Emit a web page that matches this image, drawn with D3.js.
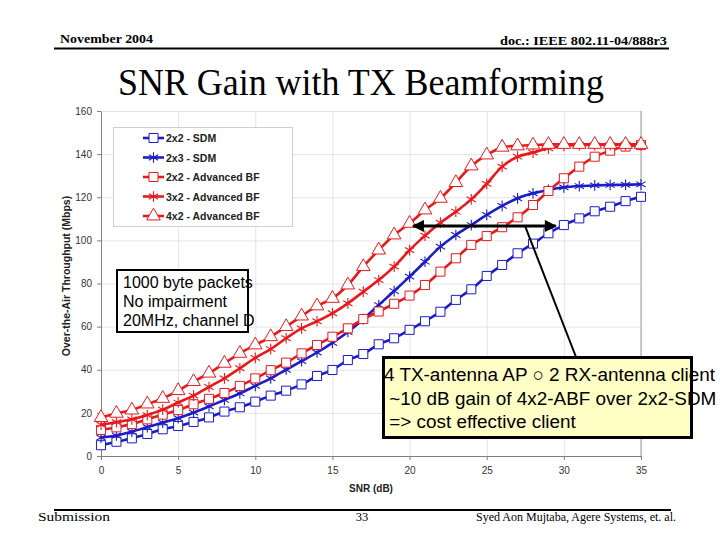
<!DOCTYPE html>
<html><head><meta charset="utf-8">
<script src="https://cdn.jsdelivr.net/npm/d3@7"></script>
<style>body{margin:0;background:#fff}svg{display:block}</style>
</head><body>
<svg id="c" width="720" height="540"></svg>
<script>
// ---- data ----
const snr = [0,1,2,3,4,5,6,7,8,9,10,11,12,13,14,15,16,17,18,19,20,21,22,23,24,25,26,27,28,29,30,31,32,33,34,35];
const sdm2x2 = [5,6.6,8.2,10.2,12.4,13.9,15.8,17.9,20.6,22.6,25.2,28,30.3,33.2,37.1,39.9,44.5,47.3,51.8,54.6,58.5,62.5,66.9,72.4,77.3,83.5,88.6,94,98.5,103.3,107.1,110.2,113.5,115.6,118.2,120.2];
const sdm2x3 = [8.5,9.5,11.3,13.4,15.5,17.5,20.1,23,26,29,32.5,36,40,44,48,52.5,57.5,63.5,70,76.5,83.2,90.1,97.1,102.5,107.1,111.8,116,119.5,121.8,123.4,124.6,125.2,125.5,125.7,125.8,126];
const abf2x2 = [12.1,13.3,14.8,17,19.2,21.3,24,26.5,29.2,32.5,36,39.8,43.3,47.6,51.5,55.3,59.2,63.5,67,70.6,74.4,79.3,85.5,91.7,97.9,102,106.1,110.7,116.4,122.9,128.8,134.2,138.8,141.6,143.5,144.2];
const abf3x2 = [14.5,15.7,17,19,21.5,24.8,28,32,36,40.7,45.5,49.6,54.6,59.2,62.5,66.2,70.8,76.2,81.6,87.8,95.5,102.2,108.2,113.3,119,126.2,134.2,138.8,140.7,142.7,143.8,144.2,144.2,144.2,144.2,144.2];
const abf4x2 = [17.8,19.8,21.3,24.1,26.7,30.3,34.5,38.4,43,47.6,51.5,55.3,60,64.9,69.6,73.1,79.3,87.8,95.5,102.5,107.9,114.1,119.5,126.8,134.5,139.6,143.2,143.8,144.2,144.5,144.5,144.5,144.5,144.5,144.5,144.5];
const seriesNames = ["2x2 - SDM","2x3 - SDM","2x2 - Advanced BF","3x2 - Advanced BF","4x2 - Advanced BF"];
const seriesValues = [sdm2x2, sdm2x3, abf2x2, abf3x2, abf4x2];
const xTicks = [0,5,10,15,20,25,30,35];
const yTicks = [0,20,40,60,80,100,120,140,160];
const noteSetup = ["1000 byte packets","No impairment","20MHz, channel D"];
const noteGain = ["4 TX-antenna AP \u25CB 2 RX-antenna client"," ~10 dB gain of 4x2-ABF over 2x2-SDM"," => cost effective client"];
const arrowRange = [20.1, 29.6];   // SNR span of the gain arrow
const arrowLevel = 106.7;          // throughput level of the gain arrow

// ---- styles ----
const colors = ["#1c1cc8","#1c1cc8","#e8191d","#e8191d","#e8191d"];
const markers = ["square","star","square","star","triangle"];
const serif = "'Liberation Serif','Times New Roman',serif";
const sans = "'Liberation Sans',Arial,sans-serif";

const svg = d3.select("#c");
svg.append("rect").attr("width",720).attr("height",540).attr("fill","#fff");

// header/footer
svg.append("text").attr("x",60).attr("y",43).attr("font-family",serif).attr("font-weight","bold")
  .attr("font-size",13).attr("textLength",93).attr("lengthAdjust","spacingAndGlyphs").text("November 2004");
svg.append("text").attr("x",667).attr("y",45).attr("text-anchor","end").attr("font-family",serif).attr("font-weight","bold")
  .attr("font-size",13).attr("textLength",167).attr("lengthAdjust","spacingAndGlyphs").text("doc.: IEEE 802.11-04/888r3");
svg.append("line").attr("x1",54).attr("x2",669).attr("y1",48.5).attr("y2",48.5).attr("stroke","#000").attr("stroke-width",2);
svg.append("text").attr("x",361).attr("y",95).attr("text-anchor","middle").attr("font-family",serif)
  .attr("font-size",37).attr("textLength",486).attr("lengthAdjust","spacingAndGlyphs").text("SNR Gain with TX Beamforming");
svg.append("line").attr("x1",54).attr("x2",671).attr("y1",510).attr("y2",510).attr("stroke","#000").attr("stroke-width",2);
svg.append("text").attr("x",38).attr("y",521).attr("font-family",serif).attr("font-size",12.5).attr("textLength",72).attr("lengthAdjust","spacingAndGlyphs").text("Submission");
svg.append("text").attr("x",362).attr("y",521).attr("text-anchor","middle").attr("font-family",serif).attr("font-size",12.5).text("33");
svg.append("text").attr("x",676).attr("y",521).attr("text-anchor","end").attr("font-family",serif).attr("font-size",12.5)
  .attr("textLength",200).attr("lengthAdjust","spacingAndGlyphs").text("Syed Aon Mujtaba, Agere Systems, et. al.");

// chart
const x = d3.scaleLinear().domain([0,35]).range([101,641]);
const y = d3.scaleLinear().domain([0,160]).range([456,111]);

// grid
const g = svg.append("g");
g.append("g").attr("transform","translate(0,456)")
  .call(d3.axisBottom(x).tickValues(xTicks).tickSize(-345).tickFormat(""))
  .call(a=>{a.select(".domain").remove();a.selectAll("line").attr("stroke","#e4e4e4");});
g.append("g").attr("transform","translate(101,0)")
  .call(d3.axisLeft(y).tickValues(yTicks).tickSize(-540).tickFormat(""))
  .call(a=>{a.select(".domain").remove();a.selectAll("line").attr("stroke","#e4e4e4");});
g.append("line").attr("x1",641).attr("x2",641).attr("y1",111).attr("y2",456).attr("stroke","#a0a0a0");

// axes
const ax = g.append("g").attr("transform","translate(0,456)")
  .call(d3.axisBottom(x).tickValues(xTicks).tickSize(4).tickSizeOuter(0).tickPadding(7));
const ay = g.append("g").attr("transform","translate(101,0)")
  .call(d3.axisLeft(y).tickValues(yTicks).tickSize(4).tickSizeOuter(0).tickPadding(5));
[ax,ay].forEach(a=>{
  a.select(".domain").attr("stroke","#808080");
  a.selectAll(".tick line").attr("stroke","#808080");
  a.selectAll("text").attr("font-family",sans).attr("font-size",10).attr("fill","#333");
});
g.append("text").attr("x",371).attr("y",492).attr("text-anchor","middle").attr("font-family",sans)
  .attr("font-weight","bold").attr("font-size",10).attr("fill","#222").text("SNR (dB)");
g.append("text").attr("transform","translate(70,276) rotate(-90)").attr("text-anchor","middle").attr("font-family",sans)
  .attr("font-weight","bold").attr("font-size",10.5).attr("fill","#222").text("Over-the-Air Throughput (Mbps)");

// marker paths
function markerPath(type){
  if(type==="square") return d3.symbol(d3.symbolSquare,82)();
  if(type==="triangle") return d3.symbol(d3.symbolTriangle,80)();
  return d3.symbol(d3.symbolAsterisk,80)();
}
function drawMarker(sel,type,color){
  sel.append("path").attr("d",markerPath(type))
    .attr("fill",type==="star"?"none":"#fff")
    .attr("stroke",color).attr("stroke-width",type==="star"?1.1:1);
}

const line = d3.line().x((d,i)=>x(snr[i])).y(d=>y(d)).curve(d3.curveCatmullRom.alpha(0.5));
const plot = g.append("g");
seriesValues.forEach((vals,k)=>{
  const sg = plot.append("g");
  sg.append("path").attr("d",line(vals)).attr("fill","none").attr("stroke",colors[k]).attr("stroke-width",2.6);
  sg.selectAll("g.m").data(vals).join("g").attr("class","m")
    .attr("transform",(d,i)=>`translate(${x(snr[i])},${y(d)})`)
    .each(function(){drawMarker(d3.select(this),markers[k],colors[k]);});
});

// legend
const lg = g.append("g");
lg.append("rect").attr("x",113.5).attr("y",127.5).attr("width",179).attr("height",99)
  .attr("fill","#fff").attr("stroke","#cfcfcf");
seriesNames.forEach((nm,k)=>{
  const ly = 138 + k*19.5;
  lg.append("line").attr("x1",143).attr("x2",164).attr("y1",ly).attr("y2",ly).attr("stroke",colors[k]).attr("stroke-width",2.6);
  const m = lg.append("g").attr("transform",`translate(153.5,${ly})`);
  drawMarker(m,markers[k],colors[k]);
  lg.append("text").attr("x",166).attr("y",ly+4).attr("font-family",sans).attr("font-weight","bold")
    .attr("font-size",10.5).attr("fill","#222").text(nm);
});

// gain arrow
const ay0 = y(arrowLevel);
svg.append("defs").html(`<marker id="ah" viewBox="0 0 10 10" refX="9" refY="5" markerWidth="4.5" markerHeight="4" orient="auto-start-reverse"><path d="M0,0 L10,5 L0,10 z" fill="#000"/></marker>`);
svg.append("line").attr("x1",x(arrowRange[0])+2).attr("x2",x(arrowRange[1])-2).attr("y1",ay0).attr("y2",ay0)
  .attr("stroke","#000").attr("stroke-width",3).attr("marker-start","url(#ah)").attr("marker-end","url(#ah)");
svg.append("line").attr("x1",525).attr("y1",ay0).attr("x2",576).attr("y2",357).attr("stroke","#000").attr("stroke-width",2);

// setup note box
svg.append("rect").attr("x",117).attr("y",270).attr("width",131).attr("height",62).attr("fill","#fff").attr("stroke","#000").attr("stroke-width",2);
noteSetup.forEach((t,i)=>svg.append("text").attr("x",123).attr("y",288+i*19).attr("font-family",sans).attr("font-size",16).attr("fill","#000").text(t));

// gain note box
svg.append("rect").attr("x",383.5).attr("y",357.5).attr("width",308).attr("height",80).attr("fill","#ffffc6").attr("stroke","#000").attr("stroke-width",3);
noteGain.forEach((t,i)=>svg.append("text").attr("x",384).attr("y",381+i*23.5).attr("font-family",sans).attr("font-size",18.9)
  .attr("fill","#000").attr("xml:space","preserve").style("white-space","pre").text(t));
</script>
</body></html>
